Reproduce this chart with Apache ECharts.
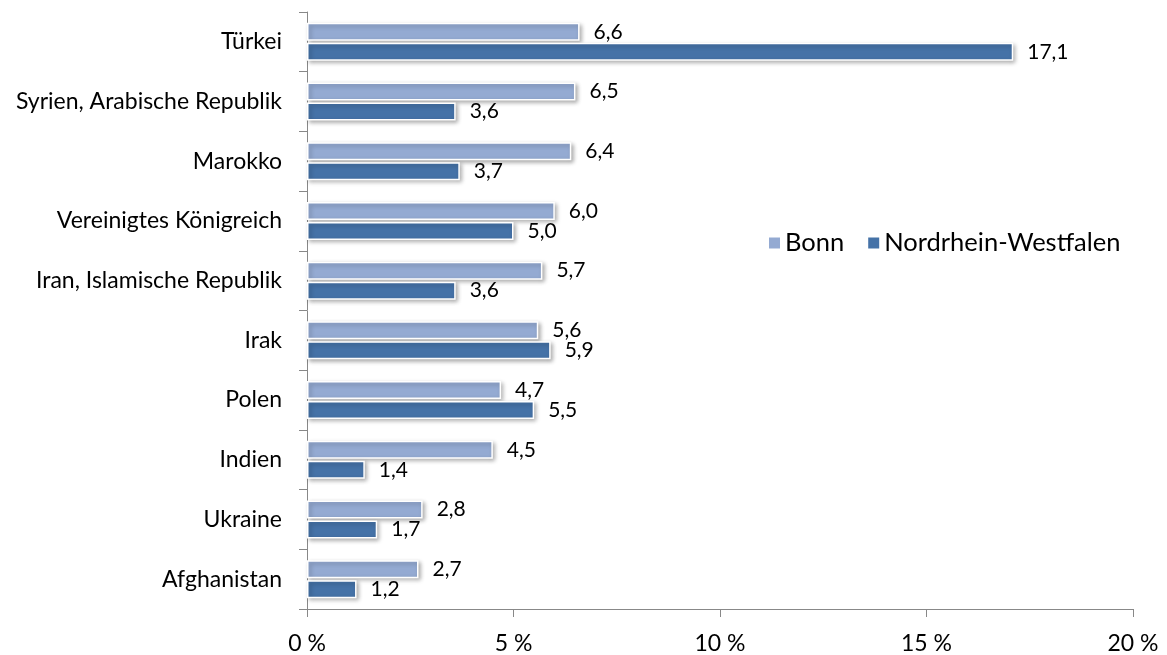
<!DOCTYPE html>
<html>
<head>
<meta charset="utf-8">
<script src="https://cdn.jsdelivr.net/npm/echarts@6/dist/echarts.min.js"></script>
<style>html,body{margin:0;padding:0;background:#fff;}#c{width:1167px;height:655px;}</style>
</head>
<body>
<div id="c"></div>
<script>
const categories = ["Türkei", "Syrien, Arabische Republik", "Marokko", "Vereinigtes Königreich", "Iran, Islamische Republik", "Irak", "Polen", "Indien", "Ukraine", "Afghanistan"];
const bonn = [6.6, 6.5, 6.4, 6.0, 5.7, 5.6, 4.7, 4.5, 2.8, 2.7];
const nrw = [17.1, 3.6, 3.7, 5.0, 3.6, 5.9, 5.5, 1.4, 1.7, 1.2];
const xTicks = [0, 5, 10, 15, 20];

const font = 'Lato, "Open Sans", sans-serif';
const fmt = v => v.toFixed(1).replace('.', ',');
const barStyle = (color) => ({
  color: color,
  borderColor: '#ffffff',
  borderWidth: 1.5,
  shadowBlur: 4,
  shadowColor: 'rgba(0,0,0,0.3)',
  shadowOffsetX: 2,
  shadowOffsetY: 2
});
const label = {
  show: true,
  position: 'right',
  distance: 14,
  color: '#000',
  fontSize: 21,
  fontFamily: font,
  formatter: p => fmt(p.value)
};
const chart = echarts.init(document.getElementById('c'), null, {renderer: 'canvas'});
chart.setOption({
  animation: false,
  backgroundColor: '#fff',
  textStyle: {fontFamily: font},
  grid: {left: 307, right: 34, top: 12, bottom: 45, containLabel: false},
  legend: {
    data: ['Bonn', 'Nordrhein-Westfalen'],
    left: 762, top: 225,
    orient: 'horizontal',
    icon: 'rect',
    itemWidth: 13, itemHeight: 13, itemGap: 22,
    textStyle: {fontSize: 25.5, color: '#000', fontFamily: font, padding: [0, 0, 0, -1]}
  },
  xAxis: {
    type: 'value',
    min: xTicks[0], max: xTicks[xTicks.length - 1], interval: 5,
    axisLine: {show: true, lineStyle: {color: '#888', width: 1}},
    axisTick: {show: true, length: 8, lineStyle: {color: '#888'}},
    splitLine: {show: false},
    axisLabel: {color: '#000', fontSize: 23, fontFamily: font, margin: 23, formatter: v => v + ' %'}
  },
  yAxis: {
    type: 'category',
    inverse: true,
    data: categories,
    axisLine: {show: true, lineStyle: {color: '#888', width: 1}},
    axisTick: {show: true, length: 8, alignWithLabel: false, lineStyle: {color: '#888'}},
    axisLabel: {color: '#000', fontSize: 23, fontFamily: font, margin: 25}
  },
  series: [
    {name: 'Bonn', type: 'bar', data: bonn, barWidth: 18, barGap: '11%', itemStyle: barStyle('#94aad2'), label: label},
    {name: 'Nordrhein-Westfalen', type: 'bar', data: nrw, barWidth: 18, barGap: '11%', itemStyle: barStyle('#4572a7'), label: label}
  ]
});
</script>
</body>
</html>
